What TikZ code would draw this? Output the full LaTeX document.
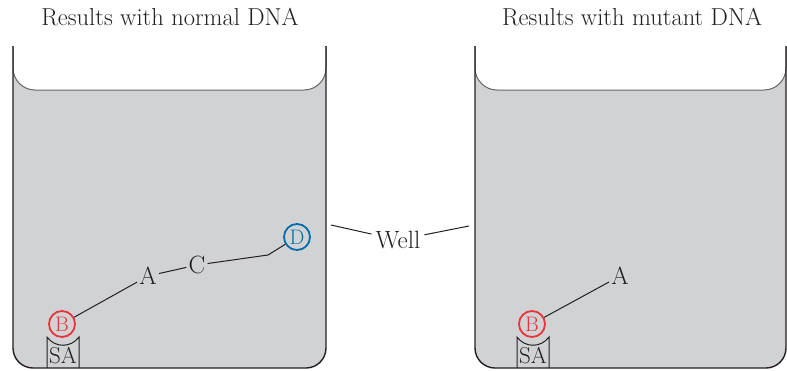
\documentclass[tikz,border=0pt]{standalone}
\usetikzlibrary{positioning}
\definecolor{gelgray}{RGB}{209,210,212}
\definecolor{inkdark}{RGB}{35,31,32}
\definecolor{bandred}{RGB}{236,50,58}
\definecolor{bandblue}{RGB}{0,110,170}
\begin{document}
\begin{tikzpicture}[x=1pt, y=-1pt,
    tube/.style={draw=inkdark, line width=1.4pt},
    meniscus/.style={draw=black!60, line width=1pt},
    band/.style={inner sep=2pt, font=\fontsize{25}{30}\selectfont, text=inkdark},
    spot/.style={circle, line width=1.8pt, minimum size=26pt, inner sep=0pt,
                 font=\fontsize{21}{25}\selectfont},
    lead/.style={draw=inkdark, line width=1pt},
    title/.style={font=\fontsize{24.5}{29}\selectfont, text=inkdark}]
    \useasboundingbox (0,0) rectangle (787,370);
    % gels
    \foreach \xl/\xr in {13/326, 475/786} {
      \fill[gelgray, rounded corners=20pt] (\xl,46) -- (\xl,368) -- (\xr,368) -- (\xr,46);
      \fill[white, rounded corners=22pt] (\xl,46) -- (\xl,90) -- (\xr,90) -- (\xr,46);
      \draw[meniscus, rounded corners=22pt] (\xl,46) -- (\xl,90) -- (\xr,90) -- (\xr,46);
      \draw[tube, rounded corners=20pt] (\xl,46) -- (\xl,368) -- (\xr,368) -- (\xr,46);
    }
    \node[title] (tnorm) at (170,17) {Results with normal DNA};
    \node[title] (tmut) at (632,17) {Results with mutant DNA};
    % normal DNA
    \draw[lead] (47,368) -- (47,337) .. controls (55,348) and (71,348) .. (79,337) -- (79,368);
    \node[band, font=\fontsize{23}{27}\selectfont] (sa1) at (63,356) {SA};
    \node[spot, draw=bandred, text=bandred] (b1) at (62,324) {B};
    \node[band] (a1) at (148,276) {A};
    \node[band] (c1) at (197,265) {C};
    \node[spot, draw=bandblue, text=bandblue] (d1) at (297,237) {D};
    \coordinate (bend) at (268,255);
    \draw[lead] (b1) -- (a1);
    \draw[lead] (a1) -- (c1);
    \draw[lead] (c1) -- (bend) -- (d1);
    % well label
    \node[band, inner sep=4pt] (well) at (398,240) {Well};
    \coordinate (wellL) at (331,225);
    \coordinate (wellR) at (469,226);
    \draw[lead] (wellL) -- (well);
    \draw[lead] (well) -- (wellR);
    % mutant DNA
    \draw[lead] (517,368) -- (517,337) .. controls (525,348) and (541,348) .. (549,337) -- (549,368);
    \node[band, font=\fontsize{23}{27}\selectfont] (sa2) at (533,356) {SA};
    \node[spot, draw=bandred, text=bandred] (b2) at (532,324) {B};
    \node[band] (a2) at (620,276) {A};
    \draw[lead] (b2) -- (a2);
  \end{tikzpicture}
\end{document}
